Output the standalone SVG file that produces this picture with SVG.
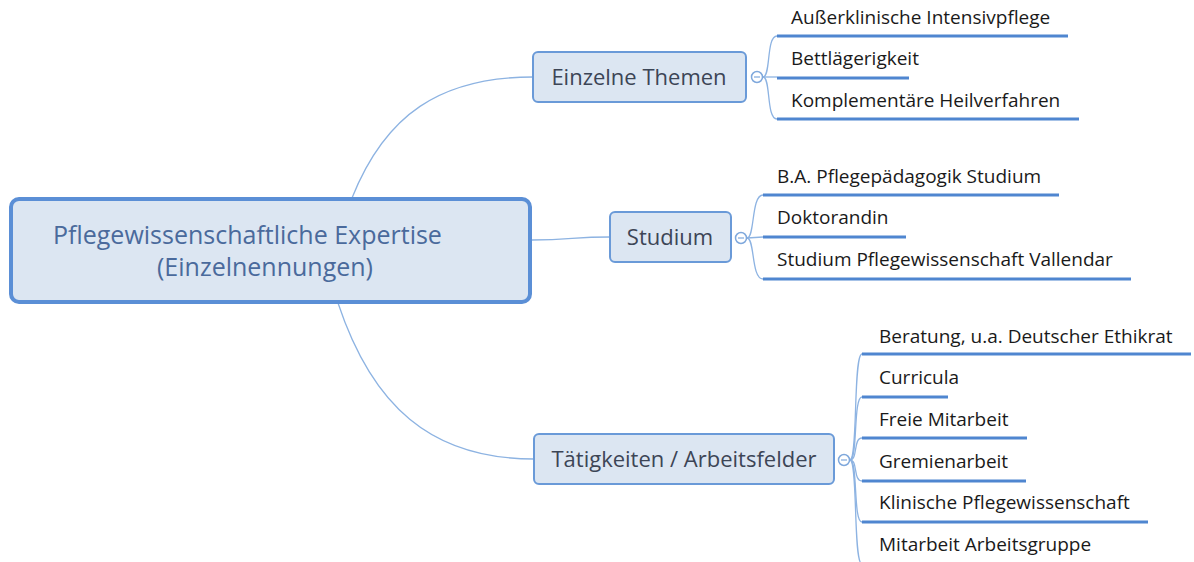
<svg xmlns="http://www.w3.org/2000/svg" width="1194" height="562" viewBox="0 0 1194 562">
<style>
.conn{fill:none;stroke:#8db3e2;stroke-width:1.3}
.ul{stroke:#4f86d0;stroke-width:3;stroke-linecap:butt}
.leaf{font-family:"Open Sans","Noto Sans",sans-serif;font-size:19px;fill:#1a1a1a}
.topic rect{fill:#dce6f2;stroke:#6a9ad8;stroke-width:2}
.topic text{font-family:"Open Sans","Noto Sans",sans-serif;font-size:22px;fill:#3c4556;text-anchor:middle}
.coll{fill:#fff;stroke:#7fa8dc;stroke-width:1.5}
.collbar{stroke:#7fa8dc;stroke-width:1.2}
</style>
<rect width="1194" height="562" fill="#ffffff"/>
<g id="connectors">
<path class="conn" d="M352,198 C385,115 440,77 533,77"/>
<path class="conn" d="M532,240 C572,240 572,237 610,237"/>
<path class="conn" d="M338,303 C372,405 430,459 534,459"/>
<path class="conn" d="M763,77 C771,77 766,36 777,36"/>
<path class="conn" d="M763,77 L777,77"/>
<path class="conn" d="M763,77 C771,77 766,119 777,119"/>
<path class="conn" d="M747,238 C755,238 751,195 763,195"/>
<path class="conn" d="M747,238 L763,237"/>
<path class="conn" d="M747,238 C755,238 751,279 763,279"/>
<path class="conn" d="M850,460 C858,460 853,354 862,354"/>
<path class="conn" d="M850,460 C858,460 853,397 862,397"/>
<path class="conn" d="M850,460 C858,460 853,438 862,438"/>
<path class="conn" d="M850,460 C858,460 853,481 862,481"/>
<path class="conn" d="M850,460 C858,460 853,522 862,522"/>
<path class="conn" d="M850,460 C858,460 853,564 862,564"/>
</g>
<g id="root">
<rect x="11" y="199" width="519" height="103" rx="8" fill="#dce6f2" stroke="#5b8fd6" stroke-width="4"/>
<text x="53" y="244" font-family="'Open Sans','Noto Sans',sans-serif" font-size="25px" fill="#4a6a9c">Pflegewissenschaftliche Expertise</text>
<text x="157" y="276" font-family="'Open Sans','Noto Sans',sans-serif" font-size="25px" fill="#4a6a9c">(Einzelnennungen)</text>
</g>
<g id="topic-einzelne" class="topic">
<rect x="533" y="52" width="213" height="50" rx="5"/>
<text x="639" y="85">Einzelne Themen</text>
<circle class="coll" cx="757" cy="77" r="5.5"/>
<line class="collbar" x1="754" y1="77" x2="760" y2="77"/>
</g>
<g id="topic-studium" class="topic">
<rect x="610" y="212" width="121" height="50" rx="5"/>
<text x="670" y="245">Studium</text>
<circle class="coll" cx="741" cy="238" r="5.5"/>
<line class="collbar" x1="738" y1="238" x2="744" y2="238"/>
</g>
<g id="topic-taetigkeiten" class="topic">
<rect x="534" y="434" width="300" height="50" rx="5"/>
<text x="684" y="467">Tätigkeiten / Arbeitsfelder</text>
<circle class="coll" cx="844" cy="460" r="5.5"/>
<line class="collbar" x1="841" y1="460" x2="847" y2="460"/>
</g>
<g id="leaf-e1"><line class="ul" x1="777" y1="36" x2="1068" y2="36"/><text class="leaf" x="791" y="24">Außerklinische Intensivpflege</text></g>
<g id="leaf-e2"><line class="ul" x1="777" y1="78" x2="909" y2="78"/><text class="leaf" x="791" y="65">Bettlägerigkeit</text></g>
<g id="leaf-e3"><line class="ul" x1="777" y1="119" x2="1079" y2="119"/><text class="leaf" x="791" y="107">Komplementäre Heilverfahren</text></g>
<g id="leaf-s1"><line class="ul" x1="763" y1="195" x2="1059" y2="195"/><text class="leaf" x="777" y="183">B.A. Pflegepädagogik Studium</text></g>
<g id="leaf-s2"><line class="ul" x1="763" y1="237" x2="906" y2="237"/><text class="leaf" x="777" y="224">Doktorandin</text></g>
<g id="leaf-s3"><line class="ul" x1="763" y1="279" x2="1131" y2="279"/><text class="leaf" x="777" y="266">Studium Pflegewissenschaft Vallendar</text></g>
<g id="leaf-t1"><line class="ul" x1="862" y1="354" x2="1191" y2="354"/><text class="leaf" x="879" y="343">Beratung, u.a. Deutscher Ethikrat</text></g>
<g id="leaf-t2"><line class="ul" x1="862" y1="397" x2="948" y2="397"/><text class="leaf" x="879" y="384">Curricula</text></g>
<g id="leaf-t3"><line class="ul" x1="862" y1="438" x2="1027" y2="438"/><text class="leaf" x="879" y="426">Freie Mitarbeit</text></g>
<g id="leaf-t4"><line class="ul" x1="862" y1="481" x2="1026" y2="481"/><text class="leaf" x="879" y="468">Gremienarbeit</text></g>
<g id="leaf-t5"><line class="ul" x1="862" y1="522" x2="1148" y2="522"/><text class="leaf" x="879" y="509">Klinische Pflegewissenschaft</text></g>
<g id="leaf-t6"><line class="ul" x1="862" y1="564" x2="1100" y2="564"/><text class="leaf" x="879" y="551">Mitarbeit Arbeitsgruppe</text></g>
</svg>
